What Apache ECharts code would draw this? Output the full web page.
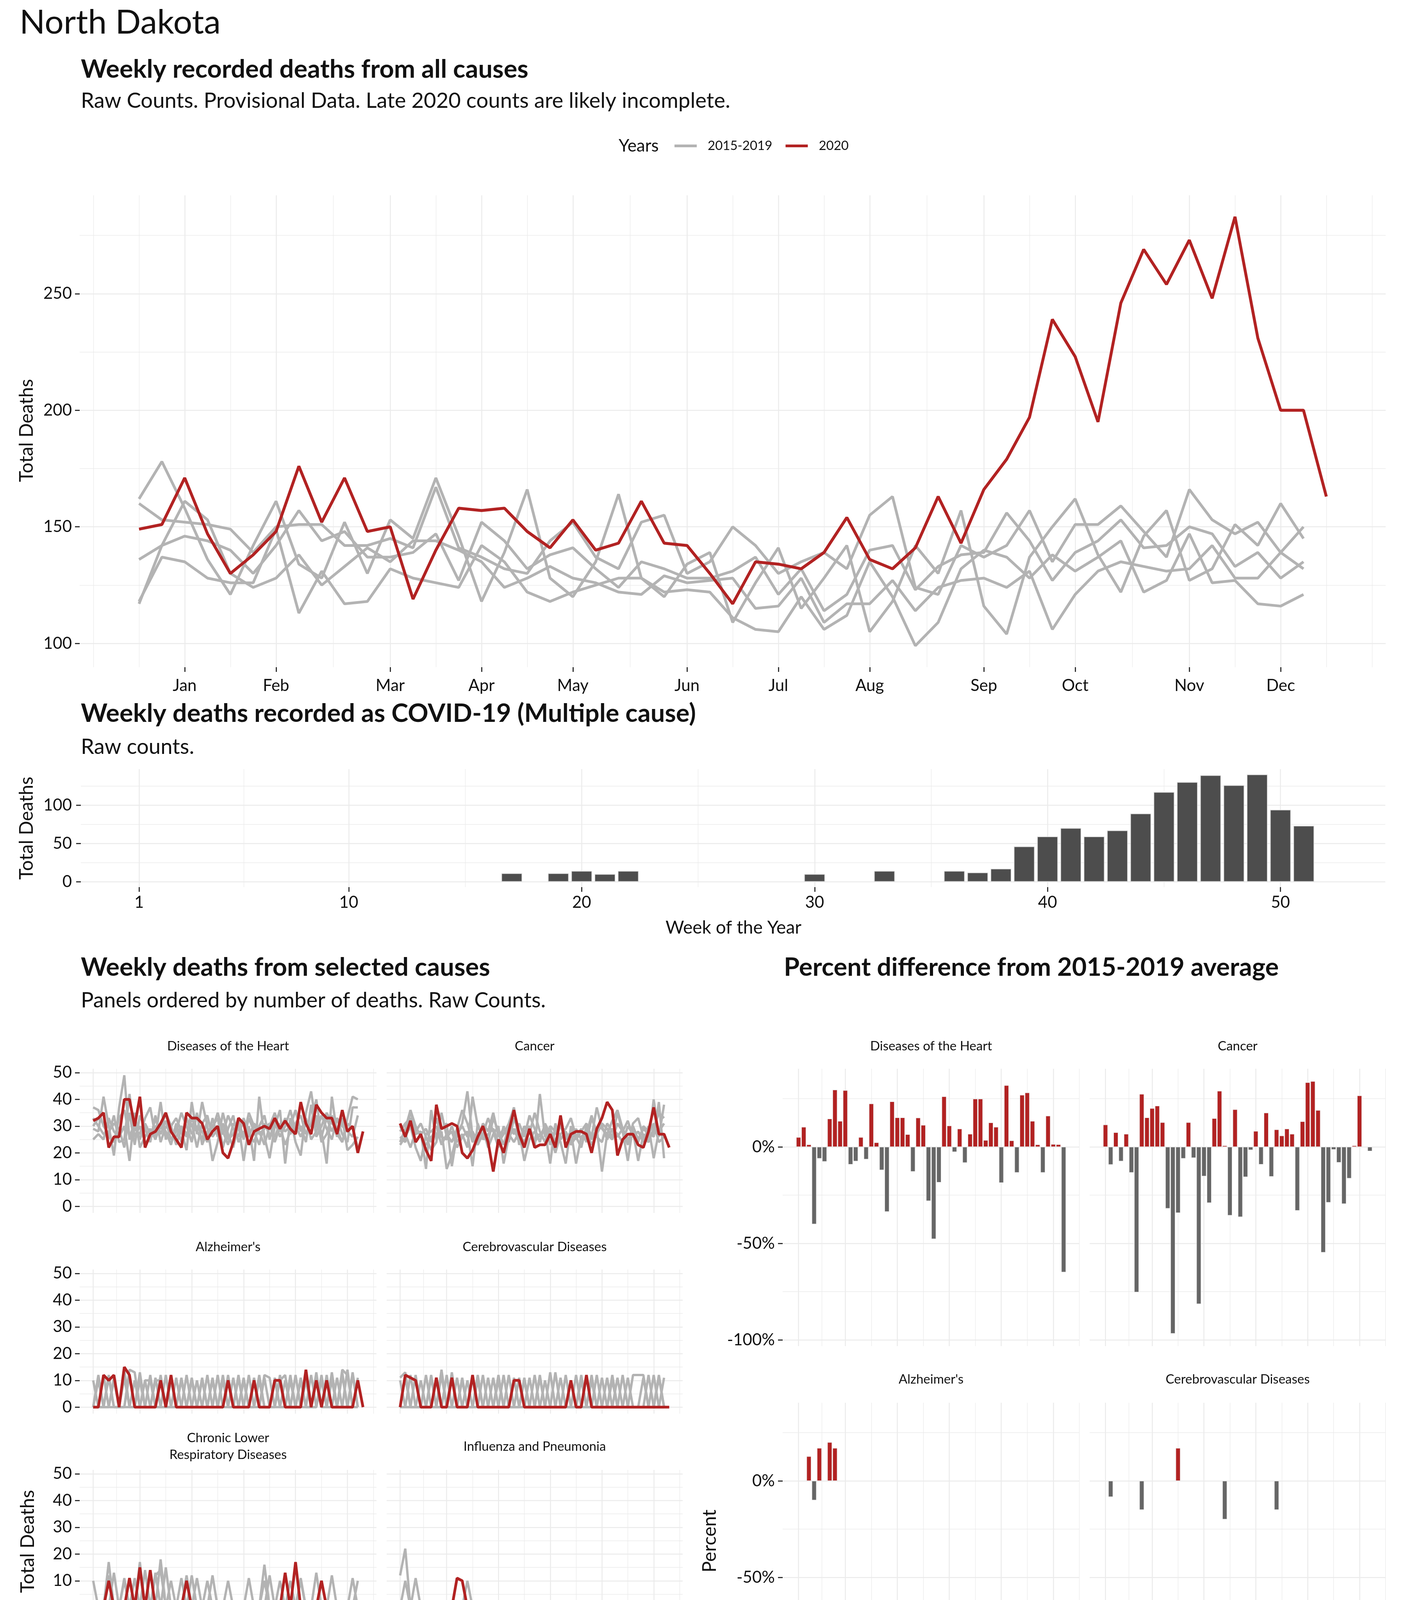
<!DOCTYPE html>
<html><head><meta charset="utf-8">
<script src="https://cdn.jsdelivr.net/npm/echarts@6.0.0/dist/echarts.min.js"></script>
<style>html,body{margin:0;padding:0;background:#fff}#c{width:3600px;height:5400px}</style>
</head><body><div id="c"></div>
<script>
// ---------------- DATA ----------------
const monthLabels = ['Jan','Feb','Mar','Apr','May','Jun','Jul','Aug','Sep','Oct','Nov','Dec'];
const monthWeeks = [3,7,12,16,20,25,29,33,38,42,47,51];
const monthMinorWeeks = [-1,1,5,9.5,14,18,22.5,27,31,35.5,40,44.5,49,53,55];
const topYTicks = [100,150,200,250];
const topYMinor = [125,175,225,275];
const weekTicks = [1,10,20,30,40,50];
const weekMinor = [5.5,15,25,35,45,55];
const countTicks = [0,10,20,30,40,50];
const countMinor = [5,15,25,35,45];
const covidYTicks = [0,50,100];
const covidYMinor = [25,75,125];
const pctTicks = [-100,-50,0];
const pctMinor = [-75,-25,25];

// All causes, weekly
const allCauses2020 = [149,151,171,147,130,138,148,176,152,171,148,150,119,140,158,157,158,148,141,153,140,143,161,143,142,130,117,135,134,132,139,154,136,132,141,163,143,166,179,197,239,223,195,246,269,254,273,248,283,231,200,200,163];
const allCauses2015 = [162,178,158,136,121,142,161,134,128,152,130,153,145,171,146,118,139,166,128,120,135,164,128,120,134,139,109,126,141,115,128,142,105,118,142,130,157,116,104,137,150,162,138,122,146,157,127,132,151,142,160,145];
const allCauses2016 = [160,153,152,151,149,139,150,151,151,142,142,145,141,167,141,137,132,130,144,152,137,132,152,155,130,135,150,142,130,135,139,132,155,163,124,121,142,137,142,157,135,151,151,159,148,137,166,153,147,152,139,150];
const allCauses2017 = [136,142,146,144,140,130,142,157,144,148,137,137,139,147,127,152,144,132,138,141,132,124,135,132,128,128,131,137,121,132,114,121,140,142,123,133,138,139,156,144,127,139,144,153,141,142,150,147,133,139,128,135];
const allCauses2018 = [117,142,161,153,130,124,128,138,125,133,141,135,144,144,140,135,124,128,133,128,126,122,121,129,126,127,128,115,116,128,109,117,117,127,114,124,127,128,124,131,106,121,131,135,133,131,132,142,128,128,139,132];
const allCauses2019 = [118,137,135,128,126,126,149,113,131,117,118,132,128,126,124,142,135,122,118,122,125,128,128,122,123,122,111,106,105,120,106,112,135,120,99,109,132,140,137,128,138,131,137,144,122,127,147,126,127,117,116,121];

// COVID-19 weekly deaths
const covidWeeks = [17,19,20,21,22,30,33,36,37,38,39,40,41,42,43,44,45,46,47,48,49,50,51];
const covidDeaths = [11,11,14,10,14,10,14,14,12,17,46,59,70,59,67,89,117,130,139,126,140,94,73];

// Selected causes (2020 = 53 weeks, earlier years = 52 weeks)
const heart2020 = [32,33,35,22,26,26,40,40,30,41,22,27,28,31,35,28,25,22,35,33,33,31,25,28,30,20,18,24,33,31,23,28,29,30,29,33,29,32,29,27,39,31,27,38,35,33,33,27,36,28,30,20,28];
const heart2015 = [29,28,41,30,19,37,49,25,29,27,33,37,26,39,25,30,33,28,21,39,27,39,30,17,24,35,27,22,31,17,30,17,41,26,18,30,36,16,33,24,19,35,43,30,28,16,41,27,24,33,41,40];
const heart2016 = [37,36,30,27,34,24,25,42,26,30,24,25,33,27,32,25,28,35,30,24,35,23,28,30,33,22,29,34,24,28,26,31,28,23,30,35,28,33,27,31,34,27,31,40,26,33,28,33,30,28,26,34];
const heart2017 = [25,27,25,33,28,26,30,17,35,22,26,29,25,31,28,23,31,24,33,27,30,28,24,33,26,31,25,27,33,25,33,28,23,31,27,26,31,28,30,36,28,33,25,28,34,29,25,33,27,24,37,37];
const heart2018 = [33,30,27,28,31,29,22,35,23,34,29,24,34,24,30,28,26,30,27,31,22,31,34,26,29,27,34,29,26,33,27,24,30,34,25,32,26,30,36,28,30,24,38,26,30,35,31,29,24,31,29,22];
const heart2019 = [30,33,31,26,24,33,36,26,31,25,31,27,30,29,35,30,23,29,26,33,28,25,32,29,35,28,23,31,29,26,35,30,27,29,31,24,30,23,28,30,26,31,30,34,24,27,34,26,33,21,23,26];

const cancer2020 = [31,26,32,24,27,21,17,38,29,30,31,30,20,18,21,26,30,24,13,25,20,28,36,27,22,29,22,23,23,27,22,34,22,27,28,28,27,20,29,33,39,36,19,25,27,27,23,22,28,37,27,27,22];
const cancer2015 = [24,29,36,27,28,14,36,25,28,14,19,27,31,43,26,23,27,33,28,22,30,24,33,27,24,29,22,42,26,29,24,31,27,23,26,22,30,25,29,13,27,32,36,29,23,31,33,26,24,40,26,38];
const cancer2016 = [28,31,33,24,27,29,24,33,26,25,30,24,27,22,41,30,26,24,33,28,23,30,27,31,26,34,29,24,31,27,20,27,29,33,26,29,24,33,28,30,25,29,27,24,30,27,24,30,28,26,39,18];
const cancer2017 = [23,26,30,22,17,27,28,30,23,27,24,29,36,31,24,27,29,22,27,30,16,26,29,24,30,27,35,28,24,30,28,24,16,30,25,28,31,26,37,29,27,25,31,28,17,30,25,29,27,31,24,26];
const cancer2018 = [26,24,36,30,26,23,26,27,29,31,15,27,30,26,28,24,31,28,35,26,29,27,24,28,17,25,28,26,30,23,28,30,25,28,16,26,28,23,27,31,29,26,35,28,32,26,28,24,30,18,28,31];
const cancer2019 = [30,27,22,28,31,26,21,24,35,26,28,22,26,28,15,31,25,27,29,24,27,31,37,23,28,30,24,27,28,16,31,25,28,24,29,25,27,34,26,24,31,28,26,29,25,28,17,27,24,29,35,33];

const alz2020 = [0,0,12,10,12,0,15,12,0,0,0,0,0,10,0,12,0,0,0,0,0,0,0,0,0,0,10,0,0,0,0,10,0,0,0,10,10,0,0,0,0,14,0,10,0,10,0,0,0,0,0,10,0];
const alz2015 = [0,12,0,11,0,0,0,14,13,0,10,10,0,0,12,0,0,11,0,0,0,10,0,0,12,0,0,0,11,0,0,10,0,11,0,0,12,0,10,0,0,0,12,0,11,0,13,0,14,12,0,0];
const alz2016 = [0,0,12,0,10,0,14,0,0,13,0,0,11,0,0,10,0,0,0,11,0,0,12,0,0,10,0,11,0,0,12,0,10,0,0,11,0,0,0,12,0,10,0,0,12,0,0,11,0,0,13,0];
const alz2017 = [10,0,0,12,0,0,11,0,0,0,10,0,0,12,0,11,0,10,0,0,10,0,0,11,0,0,12,0,0,10,0,0,0,12,11,0,0,10,0,0,11,0,0,13,0,0,10,0,12,0,0,11];
const alz2018 = [0,10,0,0,0,0,0,12,0,10,0,0,10,10,0,0,0,0,12,0,0,11,0,0,0,0,10,0,12,0,0,11,0,0,0,10,0,0,12,0,0,11,0,10,0,12,0,0,0,14,0,10];
const alz2019 = [0,0,0,0,11,0,0,0,10,0,0,12,0,0,0,0,11,0,0,10,0,0,0,10,0,12,0,0,0,11,0,0,12,0,0,0,10,12,0,0,10,0,0,0,10,0,11,0,13,0,12,0];

const cereb2020 = [0,12,11,10,0,0,0,11,0,0,11,0,0,0,12,0,0,0,0,0,0,0,10,10,0,0,0,0,0,0,0,0,0,10,0,0,12,0,0,0,0,0,0,0,0,0,0,0,0,0,0,0,0];
const cereb2015 = [11,13,0,0,0,12,0,0,14,0,0,11,0,0,0,10,0,0,11,0,0,12,0,0,10,0,0,11,0,0,13,0,0,0,12,0,0,10,0,0,11,0,0,12,0,12,12,12,0,0,11,0];
const cereb2016 = [10,0,0,12,0,0,0,10,0,0,13,0,11,0,0,0,12,0,0,10,0,0,0,11,0,0,12,0,0,0,0,11,0,0,0,10,0,0,12,0,0,0,11,0,0,0,0,0,12,0,0,11];
const cereb2017 = [0,0,12,0,0,0,11,0,0,12,0,0,0,10,0,12,0,11,0,0,12,0,0,0,0,11,0,0,10,0,0,0,12,0,0,0,11,0,0,11,0,12,0,0,0,0,0,11,0,12,0,0];
const cereb2018 = [0,11,0,0,10,0,0,0,12,0,0,0,10,0,11,0,0,0,0,12,0,0,11,0,0,0,0,12,0,13,0,0,0,10,0,0,0,12,0,0,0,10,0,0,11,0,0,0,0,0,12,0];
const cereb2019 = [0,0,0,0,0,0,12,0,0,0,0,0,0,0,0,0,0,0,0,0,0,0,0,0,11,0,0,0,0,0,0,0,0,0,0,12,0,0,0,0,0,0,0,0,0,0,0,0,0,0,0,0];

const clrd2020 = [0,0,0,10,0,0,0,11,0,15,0,14,0,0,0,0,0,0,10,0,0,0,0,0,0,0,0,0,0,0,0,0,0,0,0,0,0,13,0,17,0,0,0,0,10,0,0,0,0,0,0,0,0];
const clrd2015 = [10,0,0,17,0,0,11,0,0,17,0,0,0,18,0,0,0,11,0,0,0,0,10,0,0,0,10,0,0,0,0,0,0,16,0,0,0,0,0,0,11,0,0,13,0,0,0,0,0,0,11,0];
const clrd2016 = [0,0,0,0,13,0,0,11,0,0,14,0,13,0,15,0,0,0,0,12,0,0,0,12,0,0,0,0,0,0,11,0,0,0,0,0,10,0,10,0,0,0,0,0,0,0,12,0,0,0,0,0];
const clrd2017 = [0,0,0,12,0,0,0,0,11,0,0,13,0,0,0,0,0,0,12,0,11,0,0,0,0,0,0,0,0,0,0,0,0,0,12,0,0,0,0,0,10,0,0,0,0,0,0,0,0,0,0,10];
const clrd2018 = [0,0,0,0,0,0,10,0,0,14,0,0,0,0,0,10,0,0,0,0,0,0,0,0,0,0,0,0,0,0,0,0,0,10,0,0,0,0,0,0,0,0,0,0,0,0,0,0,0,0,0,0];
const clrd2019 = [0,0,0,11,0,0,0,0,0,0,0,0,12,14,0,0,0,0,0,0,0,0,0,0,0,0,0,0,0,0,0,0,0,0,0,0,0,0,0,0,0,0,0,0,0,0,0,0,0,0,0,0];

const flu2020 = [0,0,0,0,0,0,0,0,0,0,0,11,10,0,0,0,0,0,0,0,0,0,0,0,0,0,0,0,0,0,0,0,0,0,0,0,0,0,0,0,0,0,0,0,0,0,0,0,0,0,0,0,0];
const flu2015 = [12,22,0,0,0,0,0,0,0,0,0,0,0,0,0,0,0,0,0,0,0,0,0,0,0,0,0,0,0,0,0,0,0,0,0,0,0,0,0,0,0,0,0,0,0,0,0,0,0,0,0,0];
const flu2016 = [0,10,0,0,0,0,0,0,0,0,0,0,0,0,0,0,0,0,0,0,0,0,0,0,0,0,0,0,0,0,0,0,0,0,0,0,0,0,0,0,0,0,0,0,0,0,0,0,0,0,0,0];
const flu2017 = [0,0,0,11,0,0,0,0,0,0,0,0,0,0,0,0,0,0,0,0,0,0,0,0,0,0,0,0,0,0,0,0,0,0,0,0,0,0,0,0,0,0,0,0,0,0,0,0,0,0,0,0];
const flu2018 = [0,0,0,0,0,0,0,0,0,0,0,0,0,10,0,0,0,0,0,0,0,0,0,0,0,0,0,0,0,0,0,0,0,0,0,0,0,0,0,0,0,0,0,0,0,0,0,0,0,0,0,0];

const diab2020 = [0,0,0,0,0,0,0,0,0,0,0,0,0,0,0,11,0,0,0,0,0,0,0,0,0,0,0,0,0,0,0,0,0,0,0,0,0,0,0,0,0,0,0,0,0,0,0,0,0,0,0,0,0];
const diab2015 = [0,0,0,0,0,0,0,0,0,0,0,0,0,0,0,0,0,0,0,0,0,0,0,0,0,0,0,0,0,0,13,0,0,0,0,0,0,0,0,0,0,0,0,0,0,0,0,0,0,0,0,0];
const diab2016 = [0,0,0,0,0,0,0,0,0,0,0,0,0,0,0,0,0,0,0,0,0,0,0,0,0,0,0,0,0,0,0,0,0,0,0,0,14,0,0,0,0,0,0,0,0,0,0,0,0,0,0,0];
const diab2017 = [0,0,0,0,0,0,0,0,0,0,0,0,0,0,0,0,0,0,0,0,0,0,0,0,0,0,0,0,0,0,0,0,0,0,0,0,0,0,0,0,0,0,0,0,0,10,0,0,0,0,0,0];

const zeros2020 = [0,0,0,0,0,0,0,0,0,0,0,0,0,0,0,0,0,0,0,0,0,0,0,0,0,0,0,0,0,0,0,0,0,0,0,0,0,0,0,0,0,0,0,0,0,0,0,0,0,0,0,0,0];
const zerosPrior = [0,0,0,0,0,0,0,0,0,0,0,0,0,0,0,0,0,0,0,0,0,0,0,0,0,0,0,0,0,0,0,0,0,0,0,0,0,0,0,0,0,0,0,0,0,0,0,0,0,0,0,0];

// Percent difference from 2015-2019 average (weeks 1..52; null = not available)
const heartPct = [5,10.3,1.2,-40,-6,-7.6,14.6,29.6,13.4,29.3,-9.1,-7.4,5,-6.4,22.4,2.3,-12,-33.6,23.5,15.2,15.2,6.5,-12.8,15.1,11.3,-28,-47.7,-18.4,26.1,11,-2.6,9.4,-8.2,6.7,24.9,24.9,3.5,12.6,10.3,-18.6,31.9,3.3,-13.3,26.9,28.1,13.4,1.2,-13.3,16.1,1.4,1.3,-64.9];
const cancerPct = [11.5,-9.2,7.5,-7.4,6.7,-13.3,-75.3,27.4,15.2,20,21.3,12.7,-31.9,-96.7,-34.2,-6,12.7,-5.7,-81.4,-15.2,-29,14.8,29,0.7,-35.5,19.4,-36.3,-15.6,-1.6,8.2,-9.1,17.7,-15.4,9,5.8,9.4,6.7,-33,13.2,33.4,34,19,-54.7,-28.8,-1.4,-8.1,-29.5,-16.3,0.7,26.6,null,-2.2];
const alzPctWeeks = [3,4,5,7,8];
const alzPctValues = [12.7,-10,17,20,17];
const cerebPctWeeks = [2,8,15,24,34];
const cerebPctValues = [-8.3,-15,17,-19.9,-15];
const clrdPctWeeks = [4,8,10,12,19,38,40];
const clrdPctValues = [-40,9,15.7,23.7,-13.4,23,29.4];

// ---------------- STYLE / LAYOUT ----------------
const RED = '#B22222', GRAY = '#B3B3B3', BARGRAY = '#666666', COVIDGRAY = '#4D4D4D', GRIDC = '#EBEBEB';
const FONT = 'Lato';
const TICKFS = 42;

const grids = [], xAxes = [], yAxes = [], series = [];

function addPanel(p) {
  const gi = grids.length;
  grids.push({left: p.left, top: p.top, width: p.width, height: p.height, containLabel: false, outerBoundsMode: 'none'});
  const xi = xAxes.length, yi = yAxes.length;
  const common = {type: 'value', gridIndex: gi, axisLine: {show: false, onZero: false}};
  xAxes.push(Object.assign({}, common, {
    min: p.xMin, max: p.xMax, position: 'bottom',
    axisTick: {show: !!p.xTicks, customValues: p.xMajor, length: 12, lineStyle: {color: '#333', width: 3}},
    axisLabel: {show: !!p.xLabels, customValues: p.xMajor, formatter: p.xFormatter || (v => String(v)), margin: p.xMargin || 20,
      fontSize: TICKFS, color: '#111', fontFamily: FONT},
    splitLine: {show: true, lineStyle: {color: GRIDC, width: 2.5}}
  }));
  xAxes.push(Object.assign({}, common, {
    min: p.xMin, max: p.xMax, position: 'top',
    axisTick: {show: false, customValues: p.xMinorV}, axisLabel: {show: false},
    splitLine: {show: true, lineStyle: {color: GRIDC, width: 1.3}}
  }));
  yAxes.push(Object.assign({}, common, {
    min: p.yMin, max: p.yMax, position: 'left',
    axisTick: {show: !!p.yLabels, customValues: p.yMajor, length: 12, lineStyle: {color: '#333', width: 3}},
    axisLabel: {show: !!p.yLabels, customValues: p.yMajor, formatter: p.yFormatter || (v => String(v)), margin: p.yMargin || 20,
      fontSize: TICKFS, color: '#111', fontFamily: FONT},
    splitLine: {show: true, lineStyle: {color: GRIDC, width: 2.5}}
  }));
  yAxes.push(Object.assign({}, common, {
    min: p.yMin, max: p.yMax, position: 'right',
    axisTick: {show: false, customValues: p.yMinorV}, axisLabel: {show: false},
    splitLine: {show: true, lineStyle: {color: GRIDC, width: 1.3}}
  }));
  return {x: xi, y: yi};
}

function lineSeries(ax, arr, color, width, name, z) {
  return {type: 'line', name: name, xAxisIndex: ax.x, yAxisIndex: ax.y, data: arr.map((v, i) => [i + 1, v]),
    symbol: 'none', color: color, lineStyle: {color: color, width: width}, itemStyle: {color: color},
    z: z, silent: true, animation: false};
}

// ---- Top panel: all causes ----
const monthByWeek = {};
monthWeeks.forEach((w, i) => { monthByWeek[w] = monthLabels[i]; });
const axTop = addPanel({left: 204, top: 500, width: 3344, height: 1208,
  xMin: -1.6, xMax: 55.6, xMajor: monthWeeks, xMinorV: monthMinorWeeks, xLabels: true, xTicks: true,
  xFormatter: v => monthByWeek[v] || '', xMargin: 26,
  yMin: 89.8, yMax: 292.2, yMajor: topYTicks, yMinorV: topYMinor, yLabels: true});
[allCauses2015, allCauses2016, allCauses2017, allCauses2018, allCauses2019].forEach(a => series.push(lineSeries(axTop, a, GRAY, 7, '2015-2019', 2)));
series.push(lineSeries(axTop, allCauses2020, RED, 7.5, '2020', 3));

// ---- COVID bar panel ----
const axCovid = addPanel({left: 207, top: 1969, width: 3340, height: 302,
  xMin: -1.5, xMax: 54.5, xMajor: weekTicks, xMinorV: weekMinor, xLabels: true, xTicks: true, xMargin: 18,
  yMin: -7, yMax: 147, yMajor: covidYTicks, yMinorV: covidYMinor, yLabels: true, yMargin: 23});
series.push({type: 'bar', xAxisIndex: axCovid.x, yAxisIndex: axCovid.y, barWidth: 53,
  data: covidWeeks.map((w, i) => [w, covidDeaths[i]]),
  itemStyle: {color: COVIDGRAY, borderColor: '#d6d6d6', borderWidth: 1.5}, silent: true, animation: false});

// ---- Small multiples ----
const smPanels = [
  {name: 'Diseases of the Heart', gray: [heart2015, heart2016, heart2017, heart2018, heart2019], red: heart2020},
  {name: 'Cancer', gray: [cancer2015, cancer2016, cancer2017, cancer2018, cancer2019], red: cancer2020},
  {name: "Alzheimer's", gray: [alz2015, alz2016, alz2017, alz2018, alz2019], red: alz2020},
  {name: 'Cerebrovascular Diseases', gray: [cereb2015, cereb2016, cereb2017, cereb2018, cereb2019], red: cereb2020},
  {name: 'Chronic Lower\nRespiratory Diseases', gray: [clrd2015, clrd2016, clrd2017, clrd2018, clrd2019], red: clrd2020},
  {name: 'Influenza and Pneumonia', gray: [flu2015, flu2016, flu2017, flu2018, zerosPrior], red: flu2020},
  {name: 'Diabetes', gray: [diab2015, diab2016, diab2017, zerosPrior, zerosPrior], red: diab2020},
  {name: 'Kidney Diseases', gray: [zerosPrior, zerosPrior, zerosPrior, zerosPrior, zerosPrior], red: zeros2020},
  {name: 'Other Respiratory\ndisease', gray: [zerosPrior, zerosPrior, zerosPrior, zerosPrior, zerosPrior], red: zeros2020},
  {name: 'Septicemia', gray: [zerosPrior, zerosPrior, zerosPrior, zerosPrior, zerosPrior], red: zeros2020}
];
const smCols = [{left: 204, width: 760}, {left: 990, width: 758}];
const smRows = [2736, 3250, 3763, 4276, 4787];
const smStripY = [2678, 3192, 3703, 4216, 4728];
const SMH = 369;
const graphics = [];
function txt(x, y, text, font, align, extra) {
  graphics.push(Object.assign({type: 'text', x: x, y: y, silent: true,
    style: {text: text, font: font, fill: '#111', align: align || 'left', verticalAlign: 'middle', lineHeight: 43}}, extra || {}));
}
smPanels.forEach((p, i) => {
  const r = Math.floor(i / 2), c = i % 2;
  const bottom = r === 4;
  const ax = addPanel({left: smCols[c].left, top: smRows[r], width: smCols[c].width, height: SMH,
    xMin: -1.6, xMax: 55.6, xMajor: weekTicks, xMinorV: weekMinor, xLabels: bottom, xTicks: bottom, xMargin: 17,
    yMin: -2.45, yMax: 51.45, yMajor: countTicks, yMinorV: countMinor, yLabels: c === 0});
  p.gray.forEach(a => series.push(lineSeries(ax, a, GRAY, 6, '2015-2019', 2)));
  series.push(lineSeries(ax, p.red, RED, 7, '2020', 3));
  txt(smCols[c].left + smCols[c].width / 2, smStripY[r], p.name, '33px ' + FONT, 'center');
});

// ---- Percent difference panels ----
function pctPairs(arr) { const out = []; arr.forEach((v, i) => { if (v !== null) out.push([i + 1, v]); }); return out; }
function sparsePairs(ws, vs) { return ws.map((w, i) => [w, vs[i]]); }
const pctPanels = [
  {name: 'Diseases of the Heart', data: pctPairs(heartPct), r: 0, c: 0, xl: false},
  {name: 'Cancer', data: pctPairs(cancerPct), r: 0, c: 1, xl: false},
  {name: "Alzheimer's", data: sparsePairs(alzPctWeeks, alzPctValues), r: 1, c: 0, xl: false},
  {name: 'Cerebrovascular Diseases', data: sparsePairs(cerebPctWeeks, cerebPctValues), r: 1, c: 1, xl: true},
  {name: 'Chronic Lower\nRespiratory Diseases', data: sparsePairs(clrdPctWeeks, clrdPctValues), r: 2, c: 0, xl: true}
];
const pcCols = [{left: 2004, width: 760}, {left: 2790, width: 758}];
const pcRows = [2736, 3591, 4446];
const pcStripY = [2678, 3531, 4387];
pctPanels.forEach(p => {
  const ax = addPanel({left: pcCols[p.c].left, top: pcRows[p.r], width: pcCols[p.c].width, height: 710,
    xMin: -2.05, xMax: 55.05, xMajor: weekTicks, xMinorV: weekMinor, xLabels: p.xl, xTicks: p.xl, xMargin: 17,
    yMin: -103.2, yMax: 40.5, yMajor: pctTicks, yMinorV: pctMinor, yLabels: p.c === 0, yFormatter: v => v + '%'});
  series.push({type: 'bar', xAxisIndex: ax.x, yAxisIndex: ax.y, barWidth: 12, data: p.data,
    itemStyle: {color: q => (q.value[1] >= 0 ? RED : BARGRAY), borderColor: '#e6e6e6', borderWidth: 1},
    silent: true, animation: false});
  txt(pcCols[p.c].left + pcCols[p.c].width / 2, pcStripY[p.r], p.name, '33px ' + FONT, 'center');
});

// ---- Texts ----
const ROT = Math.PI / 2;
txt(50, 58, 'North Dakota', '86px ' + FONT, 'left');
txt(207, 178, 'Weekly recorded deaths from all causes', 'bold 65px ' + FONT, 'left');
txt(207, 258, 'Raw Counts. Provisional Data. Late 2020 counts are likely incomplete.', '54.5px ' + FONT, 'left');
txt(1584, 374, 'Years', '44px ' + FONT, 'left');
txt(69, 1102, 'Total Deaths', '48px ' + FONT, 'center', {rotation: ROT});
txt(207, 1827, 'Weekly deaths recorded as COVID-19 (Multiple cause)', 'bold 65px ' + FONT, 'left');
txt(207, 1912, 'Raw counts.', '54.5px ' + FONT, 'left');
txt(69, 2120, 'Total Deaths', '48px ' + FONT, 'center', {rotation: ROT});
txt(1878, 2375, 'Week of the Year', '46px ' + FONT, 'center');
txt(207, 2477, 'Weekly deaths from selected causes', 'bold 65px ' + FONT, 'left');
txt(207, 2561, 'Panels ordered by number of deaths. Raw Counts.', '54.5px ' + FONT, 'left');
txt(2007, 2477, 'Percent difference from 2015-2019 average', 'bold 65px ' + FONT, 'left');
txt(72, 3946, 'Total Deaths', '48px ' + FONT, 'center', {rotation: ROT});
txt(976, 5255, 'Week of the Year', '46px ' + FONT, 'center');
txt(1818, 3945, 'Percent', '48px ' + FONT, 'center', {rotation: ROT});
txt(2778, 5253, 'Week of the Year', '46px ' + FONT, 'center');
txt(3551, 5349, 'Graph: @kjhealy Data: CDC. This graph was made on February 21, 2024.', '36px ' + FONT, 'right');

const chart = echarts.init(document.getElementById('c'), null, {renderer: 'canvas'});
chart.setOption({
  backgroundColor: '#ffffff',
  animation: false,
  textStyle: {fontFamily: FONT},
  legend: {left: 1722, top: 352, itemWidth: 57, itemHeight: 7, itemGap: 34, selectedMode: false,
    textStyle: {fontSize: 33, color: '#111', fontFamily: FONT, padding: [0, 0, 0, 23]},
    data: [{name: '2015-2019', icon: 'rect', itemStyle: {color: GRAY}}, {name: '2020', icon: 'rect', itemStyle: {color: RED}}]},
  grid: grids, xAxis: xAxes, yAxis: yAxes, series: series, graphic: graphics
});
</script></body></html>
